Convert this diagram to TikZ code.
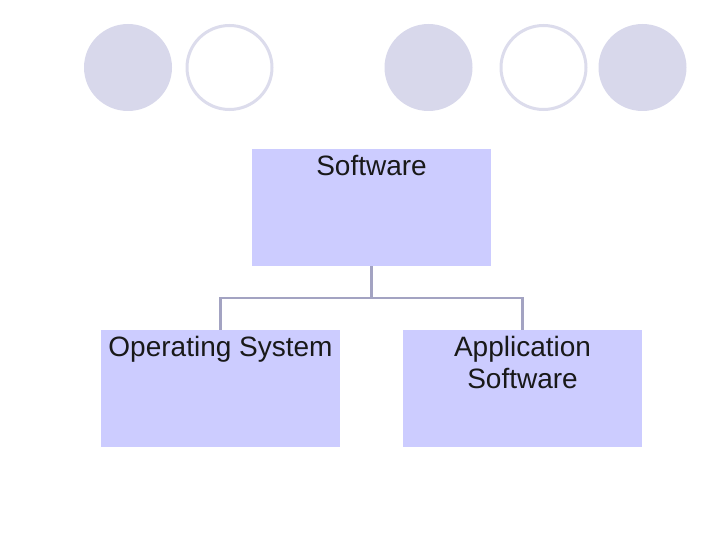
\documentclass[tikz,border=0pt]{standalone}
\usepackage{fontspec}
\setmainfont{Liberation Sans}
\usetikzlibrary{shapes.geometric}
\definecolor{circfill}{HTML}{D8D8EB}
\definecolor{circline}{HTML}{DCDCEC}
\definecolor{boxfill}{HTML}{CCCCFF}
\definecolor{conn}{HTML}{A3A3C2}
\begin{document}
\begin{tikzpicture}[x=1pt,y=-1pt,
  dot/.style={ellipse, minimum width=88pt, minimum height=87pt, inner sep=0pt, fill=circfill},
  ring/.style={ellipse, minimum width=85pt, minimum height=84pt, inner sep=0pt, draw=circline, line width=3pt, fill=white},
  box/.style={rectangle, fill=boxfill, minimum width=239pt, minimum height=117pt, inner sep=0pt},
  boxtext/.style={anchor=north, inner sep=3pt, yshift=-3pt, align=center, text=black!90, font=\fontsize{28}{32}\selectfont},
  link/.style={draw=conn, line width=2.5pt}]
\useasboundingbox (0,0) rectangle (720,540);
\node[dot] (c1) at (128,67.5) {};
\node[ring] (c2) at (229.5,67.5) {};
\node[dot] (c3) at (428.5,67.5) {};
\node[ring] (c4) at (543.5,67.5) {};
\node[dot] (c5) at (642.5,67.5) {};
\node[box, label={[boxtext]north:Software}] (sw) at (371.5,207.5) {};
\node[box, label={[boxtext]north:Operating System}] (os) at (220.5,388.5) {};
\node[box, label={[boxtext]north:Application\\Software}] (app) at (522.5,388.5) {};
\coordinate (mid) at (371.5,298);
\draw[link] (sw.south) -- (mid);
\draw[link] (os.north) |- (mid) -| (app.north);
\end{tikzpicture}
\end{document}
